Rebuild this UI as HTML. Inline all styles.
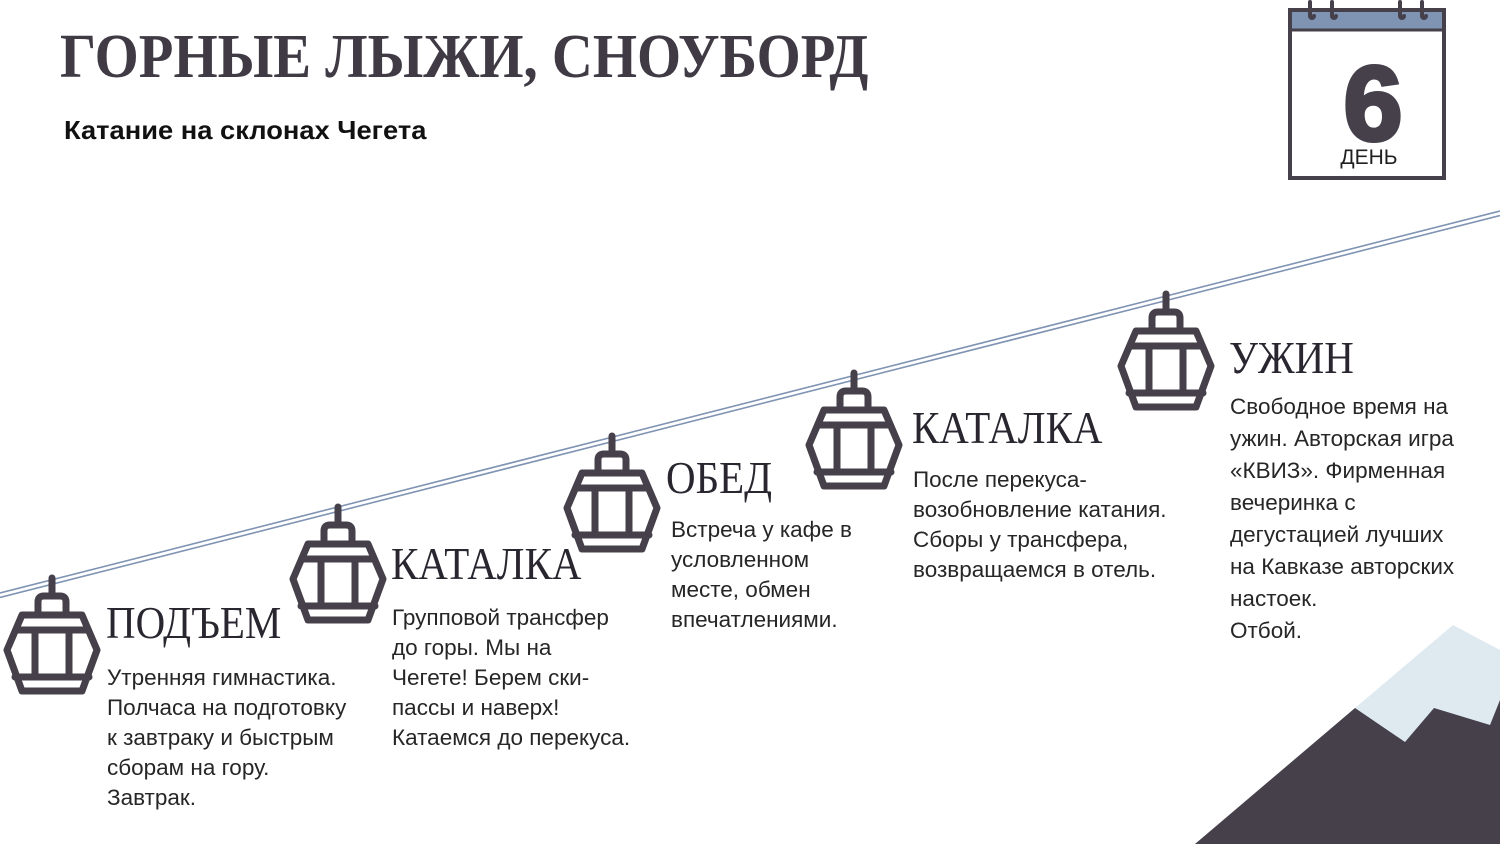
<!DOCTYPE html>
<html><head><meta charset="utf-8"><style>
body{margin:0;width:1500px;height:844px;overflow:hidden;background:#fff;position:relative;font-family:"Liberation Sans",sans-serif;color:#1f1f1f}
.t{position:absolute;white-space:nowrap}
.h{font-family:"Liberation Serif",serif;font-size:46px;color:#2a2630;line-height:1;transform:scaleX(0.89);transform-origin:left top}
.b{font-size:22.5px;line-height:30px;color:#262626}
</style></head><body>
<svg width="1500" height="844" style="position:absolute;left:0;top:0">
<defs>
<g id="gd" fill="none" stroke="#46404b" stroke-width="7" stroke-linejoin="round" stroke-linecap="round">
<line x1="0" y1="0" x2="0" y2="18"/>
<path d="M-14,37 V24 q0,-6 6,-6 h16 q6,0 6,6 V37"/>
<path d="M-30,37 H30 L45,72 L30,113 H-30 L-45,72 Z"/>
<line x1="-36" y1="52" x2="36" y2="52"/>
<line x1="-37" y1="99" x2="37" y2="99"/>
<line x1="-17" y1="52" x2="-17" y2="99"/>
<line x1="17" y1="52" x2="17" y2="99"/>
</g>
</defs>
<line x1="0" y1="593" x2="1500" y2="211" stroke="#7f93b3" stroke-width="1.6"/>
<line x1="0" y1="597.5" x2="1500" y2="215.5" stroke="#7f93b3" stroke-width="1.6"/>
<use href="#gd" x="52" y="578"/>
<use href="#gd" x="338" y="507"/>
<use href="#gd" x="612" y="436"/>
<use href="#gd" x="854" y="373"/>
<use href="#gd" x="1166" y="294"/>
<polygon points="1453,625 1500,650 1500,844 1355,708" fill="#dfeaf0"/>
<polygon points="1195,844 1355,708 1405,742 1434,708 1490,725 1500,700 1500,844" fill="#46404b"/>
<rect x="1290" y="10" width="154" height="168" fill="#fff" stroke="#46404b" stroke-width="4"/>
<rect x="1292" y="12" width="150" height="17" fill="#7f93b3"/>
<line x1="1290" y1="30" x2="1444" y2="30" stroke="#46404b" stroke-width="3"/>
<g stroke="#46404b" stroke-width="4" fill="none" stroke-linecap="round">
<path d="M1310,2 V16 a2,2 0 0 0 4,0"/><path d="M1332,2 V16 a2,2 0 0 0 4,0"/>
<path d="M1400,2 V16 a2,2 0 0 0 4,0"/><path d="M1422,2 V16 a2,2 0 0 0 4,0"/>
</g>
<text x="1373" y="140" text-anchor="middle" font-family="Liberation Sans" font-weight="bold" font-size="106" fill="#46404b" stroke="#46404b" stroke-width="4">6</text>
<text x="1369" y="164" text-anchor="middle" font-family="Liberation Sans" font-size="21" fill="#1f1f1f">ДЕНЬ</text>
</svg>
<div class="t" style="left:60px;top:22px;font-family:'Liberation Serif',serif;font-weight:bold;font-size:62px;color:#3f3a44;transform:scaleX(0.915);transform-origin:left top">ГОРНЫЕ ЛЫЖИ, СНОУБОРД</div>
<div class="t" style="left:64px;top:115px;font-weight:bold;font-size:26px;color:#111;transform:scaleX(1.05);transform-origin:left top">Катание на склонах Чегета</div>

<div class="t h" style="left:106px;top:600px">ПОДЪЕМ</div>
<div class="t b" style="left:107px;top:663px">Утренняя гимнастика.<br>Полчаса на подготовку<br>к завтраку и быстрым<br>сборам на гору.<br>Завтрак.</div>

<div class="t h" style="left:391px;top:541px">КАТАЛКА</div>
<div class="t b" style="left:392px;top:603px">Групповой трансфер<br>до горы. Мы на<br>Чегете! Берем ски-<br>пассы и наверх!<br>Катаемся до перекуса.</div>

<div class="t h" style="left:666px;top:455px">ОБЕД</div>
<div class="t b" style="left:671px;top:515px">Встреча у кафе в<br>условленном<br>месте, обмен<br>впечатлениями.</div>

<div class="t h" style="left:912px;top:405px">КАТАЛКА</div>
<div class="t b" style="left:913px;top:465px">После перекуса-<br>возобновление катания.<br>Сборы у трансфера,<br>возвращаемся в отель.</div>

<div class="t h" style="left:1229px;top:335px">УЖИН</div>
<div class="t b" style="left:1230px;top:391px;line-height:32px">Свободное время на<br>ужин. Авторская игра<br>«КВИЗ». Фирменная<br>вечеринка с<br>дегустацией лучших<br>на Кавказе авторских<br>настоек.<br>Отбой.</div>
</body></html>
